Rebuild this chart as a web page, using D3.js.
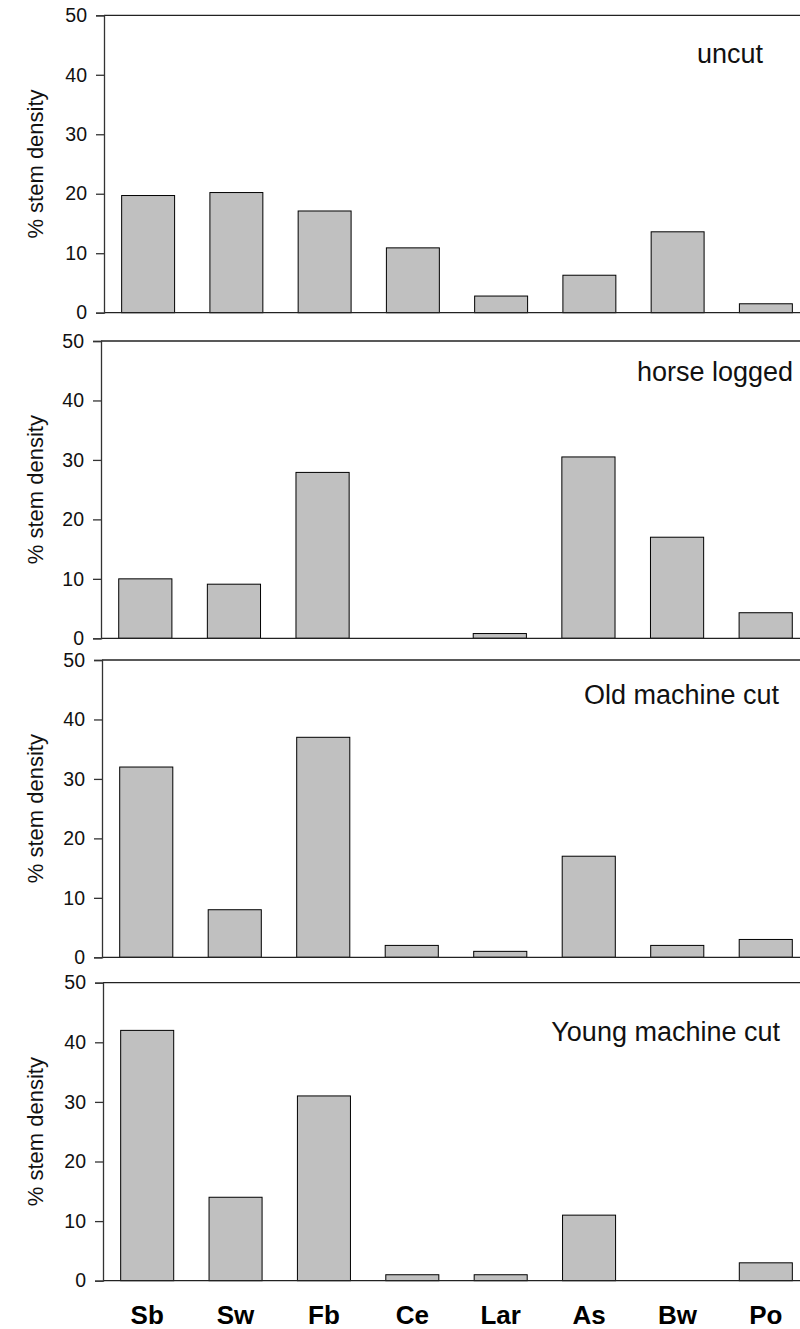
<html>
	<head>
		<title>stem density</title>
		<style>
			body { margin: 0; background: #fff; }
			svg { display: block; font-family: "Liberation Sans", Arial, sans-serif; }
		</style>
	</head>
	<body>

		<svg id="chart" width="800" height="1329"></svg>

		<script src="https://d3js.org/d3.v7.min.js" charset="utf-8"></script>
		<script type="text/javascript">

			// species along the x axis
			var species = ['Sb', 'Sw', 'Fb', 'Ce', 'Lar', 'As', 'Bw', 'Po'];
			var yTicks = [0, 10, 20, 30, 40, 50];

			// % stem density per stand type
			var uncut = [19.7, 20.2, 17.1, 10.9, 2.8, 6.3, 13.6, 1.5];
			var horseLogged = [10.0, 9.1, 27.9, 0, 0.8, 30.5, 17.0, 4.3];
			var oldMachineCut = [32, 8, 37, 2, 1, 17, 2, 3];
			var youngMachineCut = [42, 14, 31, 1, 1, 11, 0, 3];

			var titles = ['uncut', 'horse logged', 'Old machine cut', 'Young machine cut'];
			var series = [uncut, horseLogged, oldMachineCut, youngMachineCut];

			// panel geometry (px)
			var tops = [15.3, 341, 660, 982.7];
			var bottoms = [312.7, 638.3, 957.3, 1280.7];
			var lefts = [104, 101, 102, 103];
			var titleX = [763, 793, 779, 780];
			var titleY = [63, 381, 704, 1041];

			var svg = d3.select('#chart');

			series.forEach(function(vals, p) {
				var g = svg.append('g');

				var x = d3.scaleBand()
					.domain(species)
					.range([lefts[p], 810])
					.paddingInner(0.4)
					.paddingOuter(0.2);

				var y = d3.scaleLinear()
					.domain([0, 50])
					.range([bottoms[p], tops[p]]);

				// bars
				g.selectAll('rect')
					.data(vals.map(function(v, i) { return {k: species[i], v: v}; }).filter(function(d) { return d.v > 0; }))
					.enter()
					.append('rect')
					.attr('x', function(d) { return x(d.k); })
					.attr('y', function(d) { return y(d.v); })
					.attr('width', x.bandwidth())
					.attr('height', function(d) { return y(0) - y(d.v); })
					.attr('fill', '#c0c0c0')
					.attr('stroke', '#000')
					.attr('stroke-width', 1);

				// top frame line and baseline
				g.append('line')
					.attr('x1', lefts[p]).attr('x2', 800)
					.attr('y1', y(50)).attr('y2', y(50))
					.attr('stroke', '#222').attr('stroke-width', 1.3);
				g.append('line')
					.attr('x1', lefts[p]).attr('x2', 800)
					.attr('y1', y(0)).attr('y2', y(0))
					.attr('stroke', '#222').attr('stroke-width', 1.3);

				// y axis
				var ax = g.append('g')
					.attr('transform', 'translate(' + lefts[p] + ',0)')
					.call(d3.axisLeft(y).tickValues(yTicks).tickSize(8).tickPadding(9));
				ax.select('.domain').attr('stroke', '#333').attr('stroke-width', 1.3);
				ax.selectAll('.tick line').attr('stroke', '#333').attr('stroke-width', 1.3);
				ax.selectAll('.tick text')
					.attr('fill', '#111')
					.style('font-size', '19.5px')
					.style('font-family', '"Liberation Sans", Arial, sans-serif');

				// y label
				g.append('text')
					.attr('transform', 'translate(43,' + ((tops[p] + bottoms[p]) / 2) + ') rotate(-90)')
					.attr('text-anchor', 'middle')
					.style('font-size', '22px')
					.attr('fill', '#111')
					.text('% stem density');

				// panel title
				g.append('text')
					.attr('x', titleX[p])
					.attr('y', titleY[p])
					.attr('text-anchor', 'end')
					.style('font-size', '27px')
					.attr('fill', '#111')
					.text(titles[p]);

				// category labels under the last panel
				if (p == series.length - 1) {
					g.selectAll('.cat')
						.data(species)
						.enter()
						.append('text')
						.attr('class', 'cat')
						.attr('x', function(d) { return x(d) + x.bandwidth() / 2; })
						.attr('y', 1324)
						.attr('text-anchor', 'middle')
						.style('font-size', '26px')
						.style('font-weight', 'bold')
						.attr('fill', '#000')
						.text(function(d) { return d; });
				}
			});

		</script>
	</body>
</html>
